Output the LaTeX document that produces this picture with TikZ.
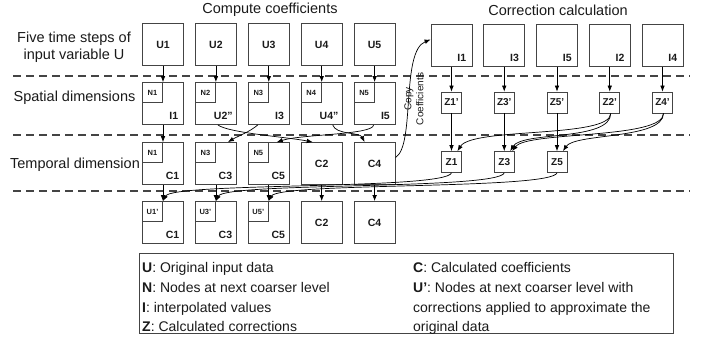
\documentclass[tikz,border=0pt]{standalone}
\usepackage{fontspec}
\setmainfont{Liberation Sans}
\usetikzlibrary{arrows.meta,calc}
\definecolor{boxc}{HTML}{444444}
\definecolor{txtc}{HTML}{1A1A1A}
\begin{document}
\begin{tikzpicture}[x=1pt,y=-1pt,
  bx/.style={draw=boxc, line width=0.8pt, minimum width=41pt, minimum height=42pt, inner sep=0pt, text=txtc},
  cn/.style={draw=boxc, line width=0.8pt, minimum width=20pt, minimum height=20pt, inner sep=0pt, anchor=north west, font=\fontsize{7.5}{8}\selectfont\bfseries, text=txtc},
  zb/.style={draw=boxc, line width=0.8pt, minimum width=20pt, minimum height=21pt, inner sep=0pt, font=\fontsize{10}{11}\selectfont\bfseries, text=txtc},
  lb/.style={font=\fontsize{10.5}{12}\selectfont\bfseries, inner sep=0pt, text=txtc},
  br/.style={lb, anchor=base east},
  arr/.style={-{Latex[length=6pt,width=4.6pt]}, line width=0.7pt},
  sep/.style={dash pattern=on 8pt off 5pt, line width=1.3pt, draw=boxc},
  txt/.style={font=\fontsize{14.5}{17}\selectfont, align=center, text=txtc, inner sep=0pt},
  leg/.style={font=\fontsize{14}{20}\selectfont, anchor=base west, inner sep=0pt, text=txtc},
]
\useasboundingbox (0,0) rectangle (710,337);

% titles and row labels
\node[txt] (tcomp) at (270,10) {Compute coefficients};
\node[txt] (tcorr) at (558,10) {Correction calculation};
\node[txt] (lab1) at (74,47) {Five time steps of\\input variable U};
\node[txt] (lab2) at (74.5,98) {Spatial dimensions};
\node[txt] (lab3) at (75,165) {Temporal dimension};

% separators
\coordinate (d1a) at (13,76);  \coordinate (d1b) at (690,76);
\coordinate (d2a) at (13,135); \coordinate (d2b) at (690,135);
\coordinate (d3a) at (13,191); \coordinate (d3b) at (690,191);
\draw[sep] (d1a) -- (d1b);
\draw[sep] (d2a) -- (d2b);
\draw[sep] (d3a) -- (d3b);

% row 1
\node[bx, lb] (u1) at (163,44.5) {U1};
\node[bx, lb] (u2) at (215.9,44.5) {U2};
\node[bx, lb] (u3) at (268.8,44.5) {U3};
\node[bx, lb] (u4) at (321.7,44.5) {U4};
\node[bx, lb] (u5) at (374.6,44.5) {U5};

% row 2
\node[bx] (s1) at (163,103.5) {};
\node[bx] (s2) at (215.9,103.5) {};
\node[bx] (s3) at (268.8,103.5) {};
\node[bx] (s4) at (321.7,103.5) {};
\node[bx] (s5) at (374.6,103.5) {};
\node[cn] (s1n) at (s1.north west) {N1};
\node[cn] (s2n) at (s2.north west) {N2};
\node[cn] (s3n) at (s3.north west) {N3};
\node[cn] (s4n) at (s4.north west) {N4};
\node[cn] (s5n) at (s5.north west) {N5};
\node[br] (s1l) at ([shift={(-5.5pt,5pt)}]s1.south east) {I1};
\node[br] (s2l) at ([shift={(-4pt,5pt)}]s2.south east) {U2"};
\node[br] (s3l) at ([shift={(-5.5pt,5pt)}]s3.south east) {I3};
\node[br] (s4l) at ([shift={(-4pt,5pt)}]s4.south east) {U4"};
\node[br] (s5l) at ([shift={(-5.5pt,5pt)}]s5.south east) {I5};

% row 3
\node[bx] (t1) at (163,163.5) {};
\node[bx] (t2) at (215.9,163.5) {};
\node[bx] (t3) at (268.8,163.5) {};
\node[bx, lb] (t4) at (321.7,163.5) {C2};
\node[bx, lb] (t5) at (374.6,163.5) {C4};
\node[cn] (t1n) at (t1.north west) {N1};
\node[cn] (t2n) at (t2.north west) {N3};
\node[cn] (t3n) at (t3.north west) {N5};
\node[br] (t1l) at ([shift={(-4.5pt,5pt)}]t1.south east) {C1};
\node[br] (t2l) at ([shift={(-4.5pt,5pt)}]t2.south east) {C3};
\node[br] (t3l) at ([shift={(-4.5pt,5pt)}]t3.south east) {C5};

% row 4
\node[bx] (f1) at (163,222.5) {};
\node[bx] (f2) at (215.9,222.5) {};
\node[bx] (f3) at (268.8,222.5) {};
\node[bx, lb] (f4) at (321.7,222.5) {C2};
\node[bx, lb] (f5) at (374.6,222.5) {C4};
\node[cn] (f1n) at (f1.north west) {U1'};
\node[cn] (f2n) at (f2.north west) {U3'};
\node[cn] (f3n) at (f3.north west) {U5'};
\node[br] (f1l) at ([shift={(-4.5pt,5pt)}]f1.south east) {C1};
\node[br] (f2l) at ([shift={(-4.5pt,5pt)}]f2.south east) {C3};
\node[br] (f3l) at ([shift={(-4.5pt,5pt)}]f3.south east) {C5};

% right: interpolated values
\node[bx] (i1) at (451.5,45.5) {};
\node[bx] (i2) at (504.25,45.5) {};
\node[bx] (i3) at (557,45.5) {};
\node[bx] (i4) at (609.75,45.5) {};
\node[bx] (i5) at (662.5,45.5) {};
\node[br] (i1l) at ([shift={(-6pt,5pt)}]i1.south east) {I1};
\node[br] (i2l) at ([shift={(-6pt,5pt)}]i2.south east) {I3};
\node[br] (i3l) at ([shift={(-6pt,5pt)}]i3.south east) {I5};
\node[br] (i4l) at ([shift={(-6pt,5pt)}]i4.south east) {I2};
\node[br] (i5l) at ([shift={(-6pt,5pt)}]i5.south east) {I4};

% Z' and Z
\node[zb] (zp1) at (451.5,102.5) {Z1'};
\node[zb] (zp2) at (504.25,102.5) {Z3'};
\node[zb] (zp3) at (557,102.5) {Z5'};
\node[zb] (zp4) at (609.75,102.5) {Z2'};
\node[zb] (zp5) at (662.5,102.5) {Z4'};
\node[zb] (z1) at (451.5,162) {Z1};
\node[zb] (z3) at (504.25,162) {Z3};
\node[zb] (z5) at (557,162) {Z5};

% arrows row1 -> row2
\foreach \k in {1,...,5} {
  \draw[arr] (u\k.south) -- (u\k.south |- s\k.north);
  \draw[arr] (i\k.south) -- (zp\k.north);
}
% row2 -> row3
\draw[arr] (s1.south) -- (s1.south |- t1.north);
\draw[arr] ([xshift=2pt]s2.south) .. controls +(10,8) and +(-25,-5) .. ([xshift=-9pt]t4.north);
\draw[arr] ([xshift=-11pt]s3.south) .. controls +(-8,7) and +(10,-6) .. ([xshift=12pt]t2.north);
\draw[arr] ([xshift=-1pt]s5.south) .. controls +(0,10) and +(25,-8) .. ([xshift=8pt]t3.north);
\draw[arr] ([xshift=11pt]s4.south) .. controls +(3,10) and +(-5,-10) .. ([xshift=-10pt]t5.north);
% row3 -> row4
\foreach \k in {1,...,5} {
  \draw[arr] (t\k.south) -- (t\k.south |- f\k.north);
}
% Z' -> Z
\draw[arr] (zp1.south) -- (z1.north);
\draw[arr] (zp2.south) -- (z3.north);
\draw[arr] (zp3.south) -- (z5.north);
\draw[arr] ([xshift=1pt]zp4.south) .. controls +(0,25) and +(15,-24) .. ([xshift=6pt]z1.north);
\draw[arr] ([xshift=1pt]zp4.south) .. controls +(0,28) and +(12,-20) .. ([xshift=6pt]z3.north);
\draw[arr] ([xshift=1pt]zp5.south) .. controls +(0,26) and +(15,-20) .. ([xshift=8pt]z3.north);
\draw[arr] ([xshift=1pt]zp5.south) .. controls +(0,26) and +(12,-18) .. ([xshift=6pt]z5.north);
% Z -> U'
\draw[arr] (z1.south) .. controls +(-6,17) and +(10,-19) .. (f1n.north east);
\draw[arr] (z3.south) .. controls +(-6,17) and +(10,-19) .. (f2n.north east);
\draw[arr] (z5.south) .. controls +(-6,17) and +(10,-19) .. (f3n.north east);

% copy coefficients
\draw[arr] ([yshift=6pt]t5.east) .. controls +(20,-12) and +(-30,12) .. ([yshift=6pt]i1.west);
\node[rotate=90, font=\fontsize{10}{12}\selectfont, align=center, text=txtc, inner sep=0pt] (copy) at (414,99) {Copy\\Coefficients};

% legend
\node[draw=boxc, line width=0.8pt, minimum width=534pt, minimum height=80pt, anchor=north west, inner sep=0pt] (legend) at (139,253) {};
\node[leg] (lg1) at (142,272) {\textbf{U}: Original input data};
\node[leg] (lg2) at (142,292) {\textbf{N}: Nodes at next coarser level};
\node[leg] (lg3) at (142,312) {\textbf{I}: interpolated values};
\node[leg] (lg4) at (142,331) {\textbf{Z}: Calculated corrections};
\node[leg] (lg5) at (413,272) {\textbf{C}: Calculated coefficients};
\node[leg] (lg6) at (413,292) {\textbf{U'}: Nodes at next coarser level with};
\node[leg] (lg7) at (413,312) {corrections applied to approximate the};
\node[leg] (lg8) at (413,331) {original data};
\end{tikzpicture}
\end{document}
